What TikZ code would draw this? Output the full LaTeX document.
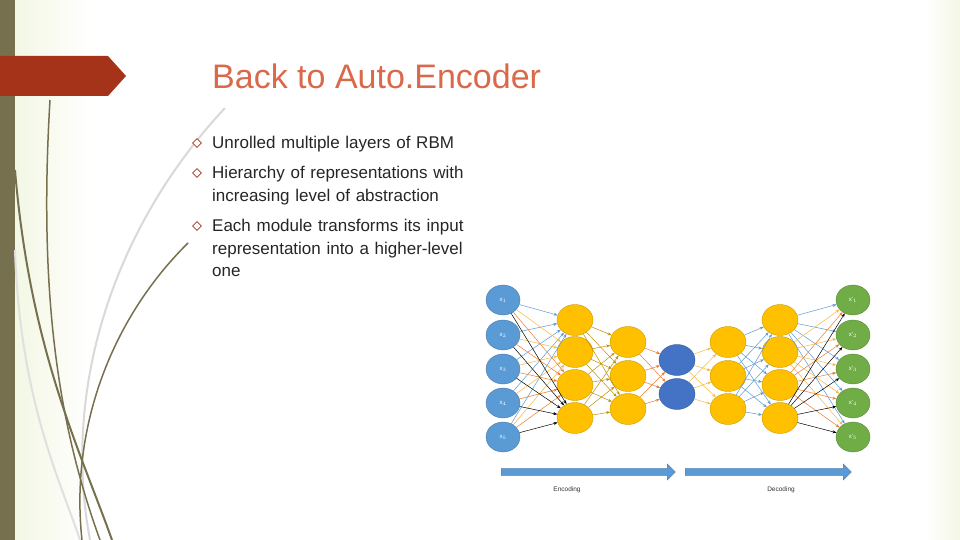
\documentclass[tikz,border=0pt]{standalone}
\usepackage{fontspec}
\setmainfont{Liberation Sans}
\usetikzlibrary{arrows.meta,shapes.geometric,shapes.arrows}
\definecolor{olivebar}{HTML}{77704F}
\definecolor{banner}{HTML}{A5331A}
\definecolor{titlec}{HTML}{D9694A}
\definecolor{inblue}{HTML}{5B9BD5}
\definecolor{codeblue}{HTML}{4472C4}
\definecolor{ygold}{HTML}{FFC000}
\definecolor{ogreen}{HTML}{70AD47}
\definecolor{eorange}{HTML}{ED7D31}
\definecolor{edgeyel}{HTML}{F4B942}
\definecolor{darkgold}{HTML}{BF9000}
\definecolor{fblue}{HTML}{5B9BD5}
\definecolor{tint}{HTML}{F3F7E4}
\tikzset{
  unit/.style={ellipse,minimum width=36pt,minimum height=31pt,inner sep=0pt,draw=#1!80!black,line width=0.4pt,font=\fontsize{6}{7}\selectfont,text=white},
  wire/.style={-{Stealth[length=4pt,width=3pt]},line width=0.5pt,draw=#1},
  bul/.style={font=\fontsize{17}{22.5}\selectfont,text=black!85,anchor=north west,align=left,text width=300pt,inner sep=0pt},
  diam/.style={draw=banner,line width=0.6pt,fill=white,diamond,minimum size=9pt,inner sep=0pt},
  flow/.style={single arrow,fill=inblue,draw=inblue!80!black,minimum height=#1,minimum width=16pt,single arrow head extend=3pt,inner sep=2pt,anchor=west},
}
\begin{document}
\begin{tikzpicture}[x=1pt,y=-1pt]
\useasboundingbox (0,0) rectangle (960,540);
\fill[white] (0,0) rectangle (960,540);
\shade[left color=tint,right color=white] (15,0) rectangle (90,540);
\shade[left color=white,right color=tint] (925,0) rectangle (960,540);
\fill[olivebar] (0,0) rectangle (15,540);
% curves
\draw[black!15,line width=2pt] (225,108) .. controls (120,220) and (60,380) .. (90,540);
\draw[black!12,line width=2pt] (15,250) .. controls (20,400) and (60,480) .. (80,540);
\draw[olivebar,line width=1.5pt] (50,100) .. controls (38,300) and (60,430) .. (100,540);
\draw[olivebar,line width=2pt] (15,170) .. controls (30,350) and (80,450) .. (112,540);
\draw[olivebar,line width=1.5pt] (188,243) .. controls (110,320) and (70,430) .. (82,540);
\fill[banner] (0,56) -- (108,56) -- (126,76) -- (108,96) -- (0,96) -- cycle;
\node[anchor=west,text=titlec,font=\fontsize{34}{38}\selectfont,inner sep=0pt] (title) at (212,76) {Back to Auto.Encoder};
% bullets
\node[diam] (d1) at (197,143) {};
\node[diam] (d2) at (197,173) {};
\node[diam] (d3) at (197,226) {};
\node[bul] (t1) at (212,136) {Unrolled multiple layers of RBM};
\node[bul] (t2) at (212,166) {Hierarchy of representations with\\increasing level of abstraction};
\node[bul] (t3) at (212,219) {Each module transforms its input\\representation into a higher-level\\one};
% network nodes
\foreach \i/\y in {1/300,2/335,3/369,4/403,5/437}{
  \node[unit=inblue,fill=inblue,minimum width=34pt,minimum height=30pt] (in\i) at (503,\y) {x$_{\i}$};
  \node[unit=ogreen,fill=ogreen,minimum width=34pt,minimum height=30pt] (o\i) at (853,\y) {x'$_{\i}$};
}
\foreach \i/\y in {1/320,2/352,3/385,4/418}{
  \node[unit=ygold,fill=ygold] (a\i) at (575,\y) {};
  \node[unit=ygold,fill=ygold] (e\i) at (780,\y) {};
}
\foreach \i/\y in {1/342,2/376,3/409}{
  \node[unit=ygold,fill=ygold] (b\i) at (628,\y) {};
  \node[unit=ygold,fill=ygold] (d\i) at (728,\y) {};
}
\foreach \i/\y in {1/360,2/394}{
  \node[unit=codeblue,fill=codeblue] (c\i) at (677,\y) {};
}
% edges
\foreach \j/\c in {1/fblue,2/edgeyel,3/eorange,4/black}{
  \foreach \i in {1,...,5}{\draw[wire=\c] (in\i) -- (a\j);}
  \foreach \i in {1,...,5}{\draw[wire=\c] (e\j) -- (o\i);}
}
\foreach \i in {1,...,4}{\foreach \j in {1,2,3}{
  \draw[wire=darkgold] (a\i) -- (b\j);
  \draw[wire=fblue] (d\j) -- (e\i);}}
\foreach \i in {1,2,3}{\foreach \j in {1,2}{
  \draw[wire=eorange] (b\i) -- (c\j);
  \draw[wire=edgeyel] (c\j) -- (d\i);}}
% flow arrows
\node[flow=174pt] (enc) at (501,472) {};
\node[flow=166pt] (dec) at (685,472) {};
\node[font=\fontsize{6.5}{8}\selectfont,text=black!80] (encl) at (567,490) {Encoding};
\node[font=\fontsize{6.5}{8}\selectfont,text=black!80] (decl) at (781,490) {Decoding};
\end{tikzpicture}
\end{document}
